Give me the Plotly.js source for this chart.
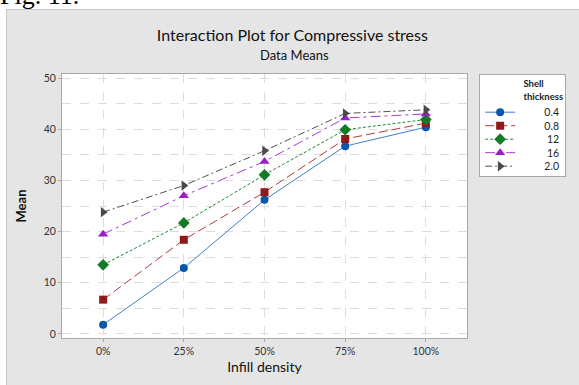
<!DOCTYPE html>
<html><head><meta charset="utf-8">
<script src="https://cdn.plot.ly/plotly-3.0.1.min.js"></script>
<style>
html,body{margin:0;padding:0;background:#fff;width:579px;height:385px;overflow:hidden;}
#bg{position:absolute;left:6px;top:9px;width:572px;height:375px;background:#e5e5e5;border-left:1px solid #c8c8c8;border-top:1px solid #c8c8c8;}
#fig{position:absolute;left:0;top:-19px;font-family:"Liberation Serif",serif;font-size:26px;color:#000;}
#chart{position:absolute;left:0;top:0;width:579px;height:385px;}
</style></head>
<body>
<div id="fig">Fig. 11.</div>
<div id="bg"></div>
<div id="chart"></div>
<script>
const categories = ["0%", "25%", "50%", "75%", "100%"];
const seriesNames = ["0.4", "0.8", "12", "16", "2.0"];
const s04 = [1.8, 12.9, 26.2, 36.7, 40.4];
const s08 = [6.7, 18.4, 27.7, 38.1, 41.2];
const s12 = [13.5, 21.7, 31.1, 39.9, 41.9];
const s16 = [19.5, 27.0, 33.7, 42.2, 43.0];
const s20 = [23.8, 29.0, 35.8, 43.1, 43.8];
const yTicks = [0, 10, 20, 30, 40, 50];

const values = [s04, s08, s12, s16, s20];
const styles = [
  {line:'#3f7fcc', mk:'#0a56a8', sym:'circle', dash:'solid', size:8},
  {line:'#b03a3a', mk:'#8e1a1a', sym:'square', dash:'9px,4px', size:8},
  {line:'#1f8a2e', mk:'#137a25', sym:'diamond', dash:'3px,2px', size:9},
  {line:'#a23ad0', mk:'#9a1fc8', sym:'triangle-up', dash:'10px,4px,3px,4px', size:9},
  {line:'#505050', mk:'#4a4a4a', sym:'triangle-right', dash:'7px,3px,2px,3px', size:9}
];
const sp = n => '\u00a0'.repeat(n);
const pad = [sp(9), sp(9), sp(10), sp(10), sp(9)];
const traces = values.map((v,i)=>({
  x: categories, y: v, type:'scatter', mode:'lines+markers',
  name: pad[i] + seriesNames[i],
  line:{color:styles[i].line, width:1, dash:styles[i].dash},
  marker:{color:styles[i].mk, symbol:styles[i].sym, size:styles[i].size}
}));
const font = "Lato, 'Open Sans', sans-serif";
const layout = {
  width:579, height:385,
  margin:{l:62, r:112, t:74, b:47},
  paper_bgcolor:'rgba(0,0,0,0)', plot_bgcolor:'#ffffff',
  font:{family:font, color:'#222'},
  title:{text:'Interaction Plot for Compressive stress', x:0.505, xanchor:'center', y:1-35/385, yanchor:'middle', font:{size:16, color:'#111', family:font}},
  annotations:[{text:'Data Means', xref:'paper', yref:'paper', x:0.574, y:1+19/264, xanchor:'center', yanchor:'middle', showarrow:false, font:{size:13, color:'#111', family:font}}],
  xaxis:{type:'category', range:[-0.51, 4.51], showline:true, linecolor:'#a8a8a8', mirror:true, ticks:'outside', ticklen:3, tickcolor:'#a8a8a8',
    showgrid:true, gridcolor:'#dcdcdc', griddash:'dash', tickfont:{size:10.5, color:'#333'},
    title:{text:'Infill density', font:{size:14, color:'#111'}, standoff:6}, zeroline:false},
  yaxis:{range:[-0.8, 50.8], tickvals:yTicks, showline:true, linecolor:'#a8a8a8', mirror:true, ticks:'outside', ticklen:3, tickcolor:'#a8a8a8',
    showgrid:true, gridcolor:'#dcdcdc', griddash:'dash', zeroline:false, tickfont:{size:10.5, color:'#333'},
    minor:{dtick:5, tick0:0, showgrid:true, gridcolor:'#dcdcdc', griddash:'dash', ticks:''},
    title:{text:'<b>Mean</b>', font:{size:13, color:'#111'}, standoff:14}},
  legend:{x:1.03, xanchor:'left', y:1.0, yanchor:'top', bgcolor:'#ffffff', bordercolor:'#a8a8a8', borderwidth:1,
    font:{size:10.5, color:'#222'}, tracegroupgap:0, itemwidth:30,
    title:{text:'<b>Shell</b><br><b>thickness</b>', side:'top right', font:{size:9.5, color:'#222'}}},
  showlegend:true
};
Plotly.newPlot('chart', traces, layout, {displayModeBar:false, staticPlot:true}).then(()=>{
  // tighten legend row spacing to match the reference
  const leg = document.querySelector('.legend');
  if (!leg) return;
  const items = leg.querySelectorAll('.traces');
  if (!items.length) return;
  const m = /translate\(\s*([-\d.]+)[ ,]+([-\d.]+)\s*\)/.exec(items[0].getAttribute('transform') || '');
  if (!m) return;
  const x0 = parseFloat(m[1]), y0 = parseFloat(m[2]) - 2;
  const step = 13.5;
  items.forEach((el,i)=> el.setAttribute('transform', `translate(${x0},${y0 + i*step})`));
  const bg = leg.querySelector('rect.bg');
  if (bg) bg.setAttribute('height', y0 + (items.length-1)*step + 10);
});
</script>
</body></html>
